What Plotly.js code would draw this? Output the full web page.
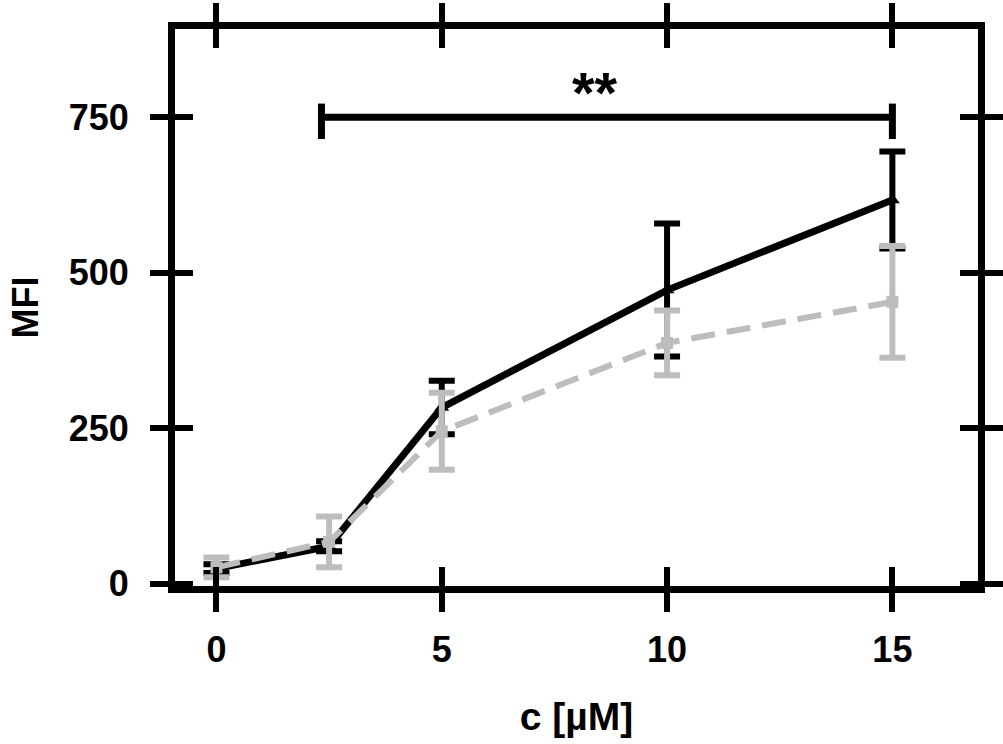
<!DOCTYPE html>
<html>
<head>
<meta charset="utf-8">
<script src="https://cdn.plot.ly/plotly-3.0.1.min.js"></script>
<style>html,body{margin:0;padding:0;background:#fff;}#chart{width:1003px;height:744px;}</style>
</head>
<body>
<div id="chart"></div>
<script>
// Data
const conc = [0, 2.5, 5, 10, 15];
const blackMean = [24, 60, 283, 472, 617];
const blackErr  = [7, 8, 43, 107, 78];
const grayMean  = [26, 67, 245, 387, 453];
const grayErr   = [16, 41, 62, 52, 90];
const xTicks = [0, 5, 10, 15];
const yTicks = [0, 250, 500, 750];
const sigX = [2.33, 15];
const sigY = 750;
const sigCap = [715, 772];
const sigLabel = '**';
const sigLabelPos = [8.4, 790];

const FONT = {family: 'Liberation Sans, Arial, sans-serif', size: 36, color: '#000', weight: 700};

const traces = [
  {
    x: conc, y: blackMean, type: 'scatter', mode: 'lines+markers',
    line: {color: '#000', width: 7},
    marker: {symbol: 'triangle-up', size: 13, color: '#000'},
    error_y: {type: 'data', array: blackErr, visible: true, color: '#000', thickness: 6, width: 13},
    showlegend: false, cliponaxis: false
  },
  {
    x: conc, y: grayMean, type: 'scatter', mode: 'lines+markers',
    line: {color: '#bdbdbd', width: 6, dash: '24px,12px'},
    marker: {symbol: 'square', size: 12, color: '#bdbdbd'},
    error_y: {type: 'data', array: grayErr, visible: true, color: '#bdbdbd', thickness: 6, width: 13},
    showlegend: false, cliponaxis: false
  },
  // invisible trace to activate overlay axes for inward ticks
  {x: [conc[0]], y: [blackMean[0]], xaxis: 'x2', yaxis: 'y2', mode: 'markers', marker: {opacity: 0}, showlegend: false, hoverinfo: 'skip'}
];

const xr = [-0.92, 16.9];
const yr = [-4, 892];

const layout = {
  width: 1003, height: 744,
  margin: {l: 175, r: 25, t: 29, b: 158},
  paper_bgcolor: '#fff', plot_bgcolor: '#fff',
  font: FONT,
  xaxis: {
    range: xr, tickvals: xTicks, ticktext: xTicks.map(String),
    showgrid: false, zeroline: false,
    showline: true, linecolor: '#000', linewidth: 7, mirror: 'ticks',
    ticks: 'outside', ticklen: 19, tickwidth: 6, tickcolor: '#000',
    tickfont: FONT, ticklabelstandoff: 7,
    title: {text: 'c [µM]', font: Object.assign({}, FONT, {size: 39}), standoff: 36}
  },
  yaxis: {
    range: yr, tickvals: yTicks, ticktext: yTicks.map(String),
    showgrid: false, zeroline: false,
    showline: true, linecolor: '#000', linewidth: 7, mirror: 'ticks',
    ticks: 'outside', ticklen: 18, tickwidth: 6, tickcolor: '#000',
    tickfont: FONT, ticklabelstandoff: 14,
    title: {text: 'MFI', font: FONT, standoff: 22}
  },
  xaxis2: {
    range: xr, tickvals: xTicks, overlaying: 'x', anchor: 'y2',
    showgrid: false, zeroline: false, showline: false, showticklabels: false,
    ticks: 'inside', ticklen: 19, tickwidth: 6, tickcolor: '#000', mirror: 'ticks'
  },
  yaxis2: {
    range: yr, tickvals: yTicks, overlaying: 'y', anchor: 'x2',
    showgrid: false, zeroline: false, showline: false, showticklabels: false,
    ticks: 'inside', ticklen: 18, tickwidth: 6, tickcolor: '#000', mirror: 'ticks'
  },
  shapes: [
    {type: 'line', xref: 'x', yref: 'y', x0: sigX[0], x1: sigX[1], y0: sigY, y1: sigY, line: {color: '#000', width: 7}},
    {type: 'line', xref: 'x', yref: 'y', x0: sigX[0], x1: sigX[0], y0: sigCap[0], y1: sigCap[1], line: {color: '#000', width: 7}},
    {type: 'line', xref: 'x', yref: 'y', x0: sigX[1], x1: sigX[1], y0: sigCap[0], y1: sigCap[1], line: {color: '#000', width: 7}}
  ],
  annotations: [
    {x: sigLabelPos[0], y: sigLabelPos[1], xref: 'x', yref: 'y', text: sigLabel, showarrow: false, font: Object.assign({}, FONT, {size: 58}), xanchor: 'center', yanchor: 'middle'}
  ]
};

Plotly.newPlot('chart', traces, layout, {displayModeBar: false, staticPlot: true});
</script>
</body>
</html>
